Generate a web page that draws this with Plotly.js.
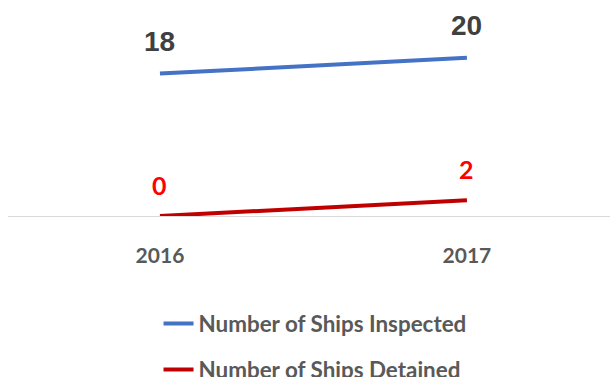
<!DOCTYPE html>
<html><head><meta charset="utf-8">
<script src="https://cdn.plot.ly/plotly-3.0.1.min.js"></script>
<style>html,body{margin:0;padding:0;background:#fff;width:610px;height:377px;overflow:hidden}#chart{width:610px;height:395px}</style>
</head><body><div id="chart"></div>
<script>
const years = ['2016', '2017'];
const inspected = [18, 20];
const detained = [0, 2];
const seriesNames = ['Number of Ships Inspected', 'Number of Ships Detained'];

const traces = [
  {x: years, y: inspected, name: seriesNames[0], type: 'scatter', mode: 'lines',
   line: {color: '#4472C4', width: 4}, legendgroup: 'a', hoverinfo: 'none'},
  {x: years, y: detained, name: seriesNames[1], type: 'scatter', mode: 'lines',
   line: {color: '#C00000', width: 4}, legendgroup: 'b', hoverinfo: 'none'}
];

const annotations = [];
years.forEach((yr, i) => {
  annotations.push({xref: 'x', yref: 'y', x: i, y: inspected[i], text: '<b>' + inspected[i] + '</b>', showarrow: false,
    yshift: 32, yanchor: 'middle', font: {family: 'Liberation Sans, Arial', size: 28, color: '#404040'}});
  annotations.push({xref: 'x', yref: 'y', x: i, y: detained[i], text: '<b>' + detained[i] + '</b>', showarrow: false,
    yshift: 31, yanchor: 'middle', font: {family: 'Lato', size: 25, color: '#FF0000'}});
});

const layout = {
  width: 610, height: 395,
  margin: {l: 8, r: 0, t: 0, b: 179},
  paper_bgcolor: '#fff', plot_bgcolor: '#fff',
  showlegend: true,
  xaxis: {type: 'category', range: [-0.495, 1.466], showline: true, linecolor: '#D9D9D9', linewidth: 1.3,
    showgrid: false, zeroline: false, ticks: 'outside', ticklen: 20, tickcolor: 'rgba(0,0,0,0)',
    tickfont: {family: 'Lato', size: 21, color: '#595959', weight: 'bold'}},
  yaxis: {range: [0, 27.3], visible: false, showgrid: false, zeroline: false},
  legend: {orientation: 'v', x: 0.51, xanchor: 'center', y: -0.40, yanchor: 'top',
    tracegroupgap: 14, font: {family: 'Lato', size: 22.4, color: '#595959', weight: 'bold'},
    itemwidth: 30, bgcolor: 'rgba(0,0,0,0)'},
  annotations: annotations
};

Plotly.newPlot('chart', traces, layout, {staticPlot: true, displayModeBar: false});
</script></body></html>
